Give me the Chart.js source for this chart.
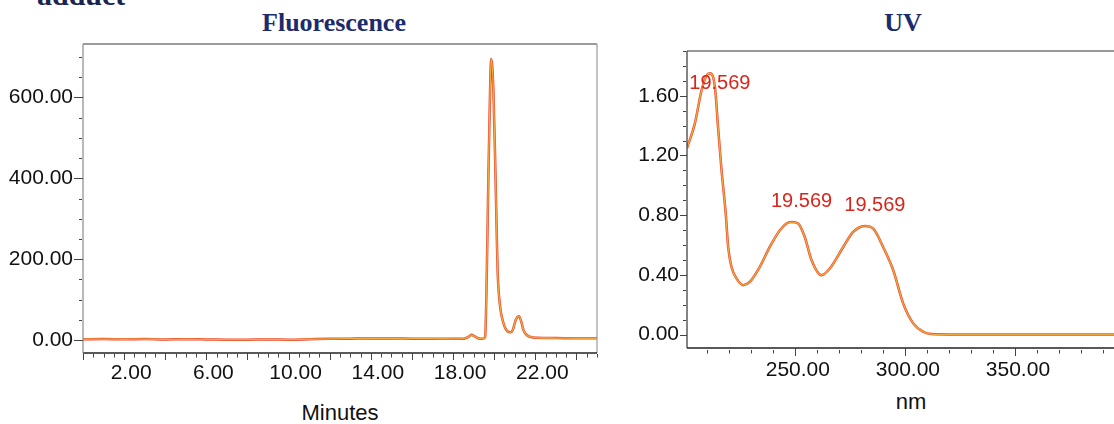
<!DOCTYPE html>
<html>
<head>
<meta charset="utf-8">
<script src="https://cdn.jsdelivr.net/npm/chart.js@4.4.1/dist/chart.umd.min.js"></script>
<style>
  html, body { margin: 0; padding: 0; background: #fff; }
  body { width: 1114px; height: 424px; position: relative; overflow: hidden; font-family: "Liberation Sans", Arial, sans-serif; }
  .panel { position: absolute; top: 0; }
  .head { position: absolute; font-family: "Liberation Serif", "Times New Roman", serif; font-weight: bold; color: #1c2b6b; font-size: 26px; line-height: 1; transform: translateX(-50%); white-space: nowrap; }
  .caption { position: absolute; left: 37px; top: -20px; font-family: "Liberation Serif", "Times New Roman", serif; font-weight: bold; color: #1b2450; font-size: 30px; line-height: 1; white-space: nowrap; }
  .axis-name { position: absolute; font-size: 22px; color: #111; line-height: 1; transform: translateX(-50%); white-space: nowrap; }
</style>
</head>
<body>
<div class="caption">adduct</div>
<div class="head" style="left:334px; top:10px;">Fluorescence</div>
<div class="head" style="left:903px; top:10px;">UV</div>
<div class="axis-name" style="left:340px; top:402px;">Minutes</div>
<div class="axis-name" style="left:911px; top:391px;">nm</div>

<div class="panel" style="left:0; width:620px; height:424px;"><canvas id="fluor" width="620" height="424"></canvas></div>
<div class="panel" style="left:620px; width:520px; height:424px;"><canvas id="uv" width="520" height="424"></canvas></div>

<script>
// Fluorescence chromatogram (retention time in minutes, detector response)
const fluorTimes = [0, 1, 2, 3, 4, 5, 6, 7, 8, 9, 10, 11, 12, 13, 14, 15, 16, 17, 18,
  18.5, 18.75, 18.9, 19.05, 19.25, 19.45, 19.56, 19.64, 19.72, 19.8, 19.85, 19.96,
  20.06, 20.13, 20.17, 20.29, 20.45, 20.69, 20.8, 20.9, 21.05, 21.2, 21.32, 21.42,
  21.55, 21.66, 21.85, 22.07, 23, 24, 25];
const fluorSignal = [2, 2.5, 2, 2.5, 1.5, 2, 1.5, 1, 1, 1.5, 1, 2, 3, 3.5, 4, 4, 3.5, 3.5, 3,
  3.5, 8, 13, 9, 4, 3, 8, 165, 413, 619, 695, 619,
  413, 248, 166, 82, 42, 20, 19, 24, 50, 59, 45, 25,
  14, 10, 7, 5.5, 5, 4.5, 4.5];
const fluorTimeLabels = [2, 6, 10, 14, 18, 22];
const fluorSignalLabels = [0, 200, 400, 600];

// UV spectrum of the peak (wavelength in nm, absorbance)
const uvNm = [201, 204.5, 207.6, 209.9, 211.4, 212.9, 214, 215.1, 216.7, 218.6, 219.7,
  221.2, 223.5, 226.5, 229.5, 234.1, 238.6, 243.2, 246.2, 248.5, 251.5, 254.5, 257.6,
  262.1, 265.9, 272, 276.5, 281.8, 285.6, 290.1, 294.7, 299.2, 303.8, 308.3, 312.1,
  320, 340, 360, 380, 400];
const uvAbs = [1.25, 1.41, 1.635, 1.736, 1.751, 1.724, 1.613, 1.39, 1.1, 0.81, 0.587,
  0.454, 0.376, 0.331, 0.353, 0.454, 0.587, 0.699, 0.744, 0.754, 0.744, 0.654, 0.498,
  0.398, 0.443, 0.587, 0.688, 0.728, 0.71, 0.587, 0.431, 0.209, 0.075, 0.019, 0.003,
  0.001, 0.001, 0.001, 0.001, 0.001];
const uvNmLabels = [250, 300, 350];
const uvAbsLabels = [0, 0.4, 0.8, 1.2, 1.6];
const uvPeakNm = [211.4, 248.5, 281.8];
const uvPeakText = ['19.569', '19.569', '19.569'];

const TICK_FONT = { family: 'Liberation Sans', size: 21 };

function near(a, b) { return Math.abs(a - b) < 1e-6; }
function isMultiple(v, step) { return near(Math.round(v / step) * step, v); }

function stepTicks(step) {
  return function (scale) {
    const out = [];
    const start = Math.ceil(scale.min / step - 1e-9);
    for (let i = start; i * step <= scale.max + 1e-9; i++) {
      out.push({ value: Math.round(i * step * 1000) / 1000 });
    }
    scale.ticks = out;
  };
}

function labelFrom(list) {
  return function (v) {
    return list.some(l => near(l, v)) ? v.toFixed(2) : '';
  };
}

// frame round the plot area plus minor/major tick marks
const axisFrame = {
  id: 'axisFrame',
  afterDraw(chart, args, opts) {
    const { ctx, chartArea: a } = chart;
    ctx.save();
    ctx.lineCap = 'butt';
    const side = (x1, y1, x2, y2, color, w) => {
      ctx.beginPath();
      ctx.strokeStyle = color;
      ctx.lineWidth = w;
      ctx.moveTo(x1, y1);
      ctx.lineTo(x2, y2);
      ctx.stroke();
    };
    const f = opts.frame;
    side(a.left, a.top, a.right, a.top, f.top, 1.2);
    side(a.right, a.top, a.right, a.bottom, f.right, 1.2);
    side(a.left, a.bottom, a.right, a.bottom, f.bottom, 1.6);
    side(a.left, a.top, a.left, a.bottom, f.left, 1.2);

    ['x', 'y'].forEach(ax => {
      const spec = opts[ax];
      const scale = chart.scales[ax];
      ctx.beginPath();
      ctx.strokeStyle = '#444';
      ctx.lineWidth = 1;
      scale.ticks.forEach(t => {
        const major = isMultiple(t.value, spec.major);
        const len = major ? spec.majorLen : spec.minorLen;
        const gap = major ? 0 : spec.gap;
        const p = Math.round(scale.getPixelForValue(t.value)) + 0.5;
        if (ax === 'x') {
          ctx.moveTo(p, a.bottom + gap);
          ctx.lineTo(p, a.bottom + gap + len);
        } else {
          ctx.moveTo(a.left - gap, p);
          ctx.lineTo(a.left - gap - len, p);
        }
      });
      ctx.stroke();
    });
    ctx.restore();
  }
};

// retention-time labels above the spectrum maxima
const peakLabels = {
  id: 'peakLabels',
  afterDatasetsDraw(chart, args, opts) {
    if (!opts.nm) return;
    const { ctx, chartArea: a, scales } = chart;
    ctx.save();
    ctx.font = '20px "Liberation Sans", Arial, sans-serif';
    ctx.fillStyle = '#d8261c';
    ctx.textAlign = 'center';
    ctx.textBaseline = 'alphabetic';
    opts.nm.forEach((nm, i) => {
      let k = 0;
      uvNm.forEach((w, j) => { if (Math.abs(w - nm) < Math.abs(uvNm[k] - nm)) k = j; });
      const px = scales.x.getPixelForValue(uvNm[k]);
      const py = scales.y.getPixelForValue(uvAbs[k]);
      const base = Math.max(py - 15, a.top + 38);
      ctx.fillText(opts.text[i], px + 10, base);
    });
    ctx.restore();
  }
};

// the trace is an orange line with a red edge; dataset 0 is painted last
function traceSets(xs, ys) {
  const pts = xs.map((x, i) => ({ x: x, y: ys[i] }));
  return [
    { data: pts, borderColor: '#f4a73e', borderWidth: 1.3, pointRadius: 0, cubicInterpolationMode: 'monotone' },
    { data: pts, borderColor: '#e2482c', borderWidth: 2.5, pointRadius: 0, cubicInterpolationMode: 'monotone' }
  ];
}

function baseOptions() {
  return {
    responsive: false,
    animation: false,
    events: [],
    plugins: { legend: { display: false }, tooltip: { enabled: false } }
  };
}

// left panel: fluorescence trace
const fOpts = baseOptions();
fOpts.layout = { padding: { left: 0, top: 44, right: 23, bottom: 0 } };
fOpts.scales = {
  x: {
    type: 'linear', min: 0, max: 25,
    afterBuildTicks: stepTicks(0.5),
    afterFit: s => { s.height = 71; },
    grid: { display: false, drawTicks: false },
    border: { display: false },
    ticks: { autoSkip: false, maxRotation: 0, padding: 8, labelOffset: 7, color: '#111', font: TICK_FONT,
      callback: labelFrom(fluorTimeLabels) }
  },
  y: {
    type: 'linear', min: -32, max: 732,
    afterBuildTicks: stepTicks(50),
    afterFit: s => { s.width = 83; },
    grid: { display: false, drawTicks: false },
    border: { display: false },
    ticks: { autoSkip: false, padding: 10, color: '#111', font: TICK_FONT,
      callback: labelFrom(fluorSignalLabels) }
  }
};
fOpts.plugins.axisFrame = {
  frame: { top: '#3a3a3a', right: '#9a9a9a', bottom: '#222', left: '#8a8a8a' },
  x: { major: 2, majorLen: 7, minorLen: 3.5, gap: 1 },
  y: { major: 200, majorLen: 9, minorLen: 3, gap: 1 }
};
new Chart(document.getElementById('fluor'), {
  type: 'line',
  data: { datasets: traceSets(fluorTimes, fluorSignal) },
  options: fOpts,
  plugins: [axisFrame]
});

// right panel: UV spectrum
const uOpts = baseOptions();
uOpts.layout = { padding: { left: 0, top: 51, right: 15, bottom: 0 } };
uOpts.scales = {
  x: {
    type: 'linear', min: 201, max: 400,
    afterBuildTicks: stepTicks(10),
    afterFit: s => { s.height = 76; },
    grid: { display: false, drawTicks: false },
    border: { display: false },
    ticks: { autoSkip: false, maxRotation: 0, padding: 10, labelOffset: 3, color: '#111', font: TICK_FONT,
      callback: labelFrom(uvNmLabels) }
  },
  y: {
    type: 'linear', min: -0.09, max: 1.9,
    afterBuildTicks: stepTicks(0.1),
    afterFit: s => { s.width = 67; },
    grid: { display: false, drawTicks: false },
    border: { display: false },
    ticks: { autoSkip: false, padding: 8, color: '#111', font: TICK_FONT,
      callback: labelFrom(uvAbsLabels) }
  }
};
uOpts.plugins.axisFrame = {
  frame: { top: '#333', right: '#333', bottom: '#222', left: '#333' },
  x: { major: 50, majorLen: 8, minorLen: 3.5, gap: 2 },
  y: { major: 0.4, majorLen: 7, minorLen: 3, gap: 1 }
};
uOpts.plugins.peakLabels = { nm: uvPeakNm, text: uvPeakText };
new Chart(document.getElementById('uv'), {
  type: 'line',
  data: { datasets: traceSets(uvNm, uvAbs) },
  options: uOpts,
  plugins: [axisFrame, peakLabels]
});
</script>
</body>
</html>
